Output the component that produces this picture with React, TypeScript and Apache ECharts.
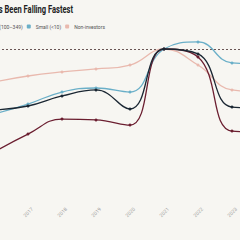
import React, { useEffect, useRef } from "react";
import * as echarts from "echarts";

const years = ["2016", "2017", "2018", "2019", "2020", "2021", "2022", "2023", "2024"];
const large = [59.3, 62, 68.7, 72.7, 60, 100, 96.7, 61.3, 60.7];
const medium = [31.3, 43.3, 53.3, 52.7, 49.3, 100, 94.7, 45.3, 44.7];
const small = [56.7, 63.3, 71.3, 74, 71.3, 100, 104.7, 90.7, 90];
const nonInvestors = [78, 82, 84.7, 86.7, 89.3, 100, 89.3, 72.7, 71.3];
const seriesNames = ["Large (350+)", "Medium (100–349)", "Small (<10)", "Non-investors"];
const colors = ["#1b2733", "#6b1e30", "#6aafc8", "#e9b9ae"];
const titleText = "Large-Investor Buying Has Been Falling Fastest";

const FONT = "'Roboto', 'Noto Sans', sans-serif";

export default function App() {
  const ref = useRef<HTMLDivElement>(null);
  useEffect(() => {
    if (!ref.current) return;
    const chart = echarts.init(ref.current, undefined, { renderer: "svg" });
    const datas = [large, medium, small, nonInvestors];
    chart.setOption({
      animation: false,
      backgroundColor: "#f7f6f2",
      graphic: [
        {
          type: "text",
          x: 193,
          y: 4,
          scaleX: 0.72,
          style: {
            text: titleText,
            align: "right",
            verticalAlign: "top",
            fontFamily: FONT,
            fontSize: 10.5,
            fontWeight: "bold",
            fill: "#222",
          },
        },
      ],
      legend: {
        data: seriesNames,
        right: 190,
        top: 19,
        itemWidth: 4,
        itemHeight: 4,
        itemGap: 4,
        icon: "roundRect",
        textStyle: { fontFamily: FONT, fontSize: 5, color: "#555" },
      },
      grid: { left: 114, right: 34, top: 19, bottom: 41 },
      xAxis: {
        type: "category",
        data: years,
        boundaryGap: false,
        axisLine: { show: false },
        axisTick: { show: false },
        axisLabel: {
          rotate: 45,
          align: "center",
          verticalAlign: "middle",
          fontSize: 5,
          color: "#a0a0a0",
          margin: 13,
          fontFamily: FONT,
        },
        splitLine: { show: false },
      },
      yAxis: { type: "value", min: 0, max: 120, show: false },
      series: datas.map((d, i) => ({
        name: seriesNames[i],
        type: "line",
        data: d,
        smooth: 0.45,
        symbol: "circle",
        symbolSize: 3,
        lineStyle: { width: 1.3, color: colors[i] },
        itemStyle: { color: colors[i] },
        z: 10 - i,
        markLine:
          i === 0
            ? {
                silent: true,
                symbol: "none",
                label: { show: false },
                lineStyle: { type: [2, 2], color: "#6a5555", width: 1 },
                data: [{ yAxis: 100 }],
              }
            : undefined,
      })),
    });
    return () => chart.dispose();
  }, []);
  return (
    <div style={{ position: "fixed", left: 0, top: 0, width: 240, height: 240, overflow: "hidden" }}>
      <div ref={ref} style={{ position: "absolute", left: -120, top: 0, width: 420, height: 240 }} />
    </div>
  );
}
